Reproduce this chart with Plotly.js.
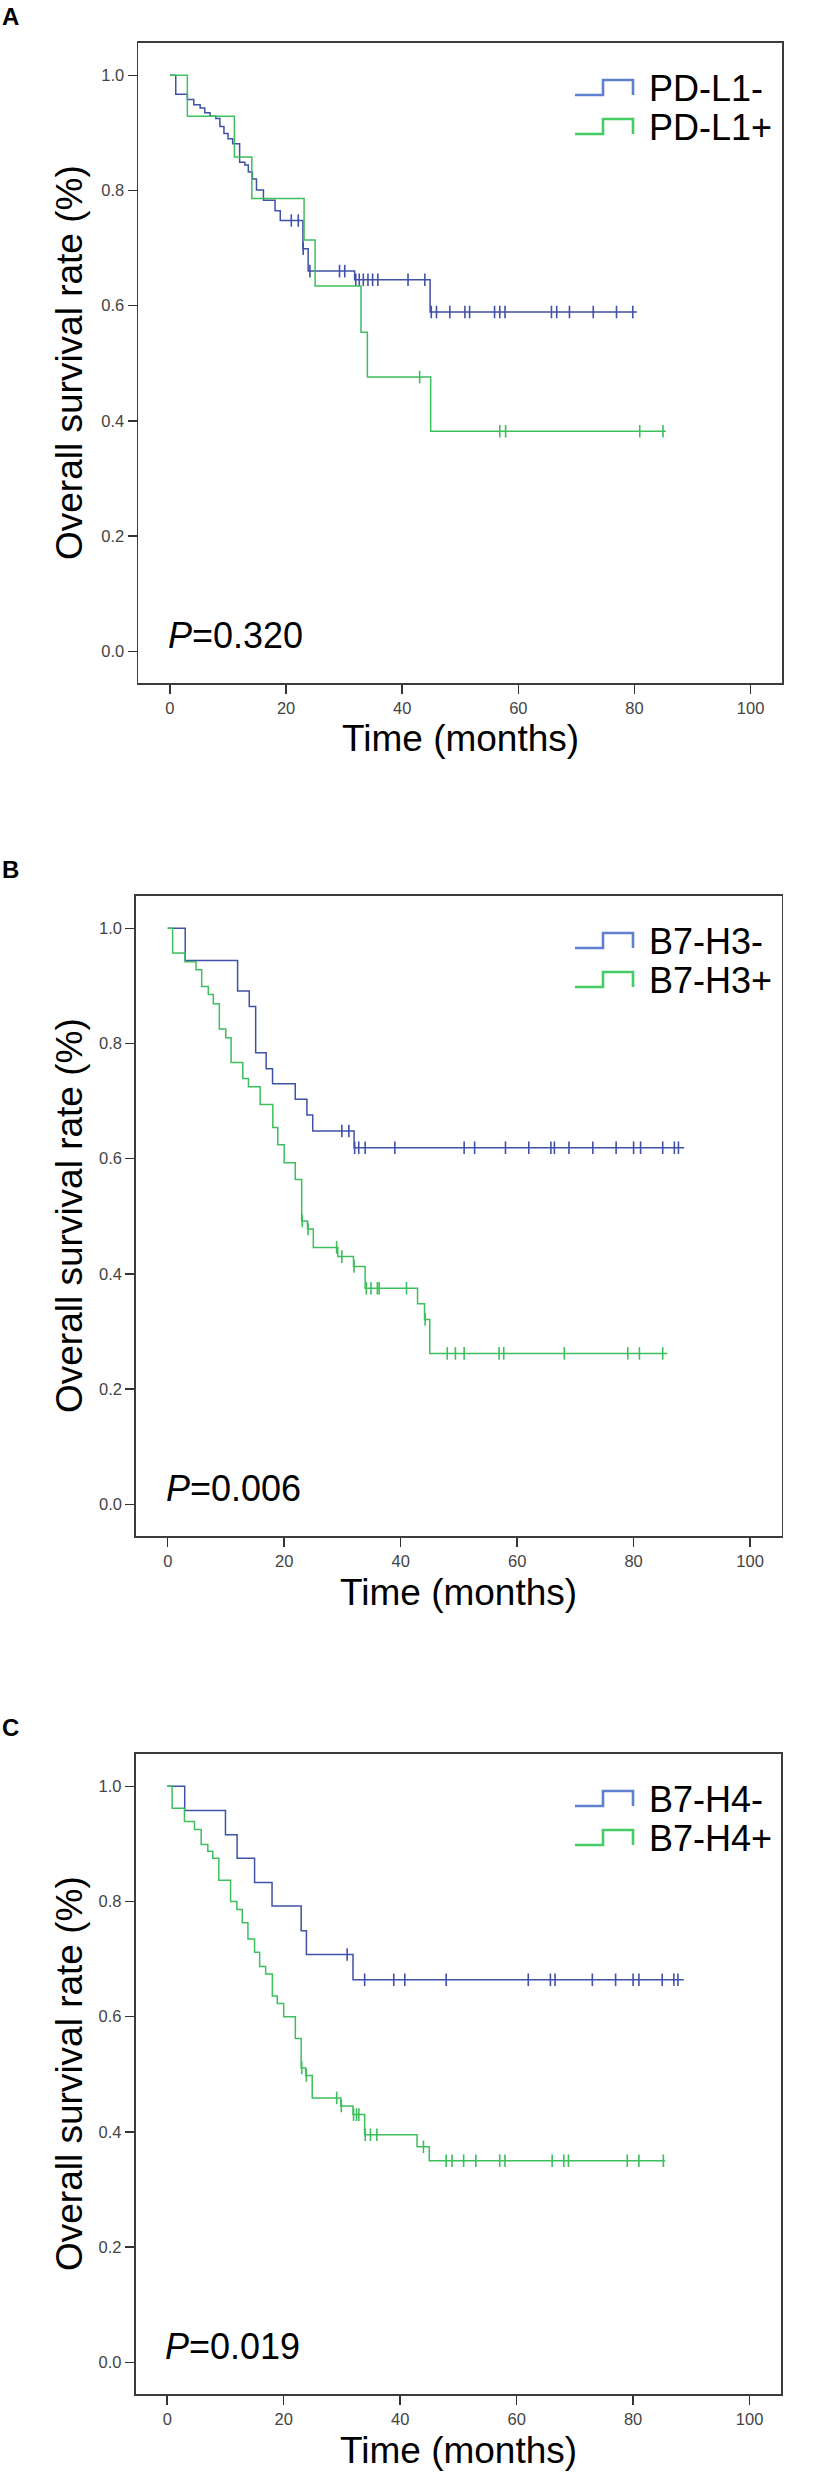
<!DOCTYPE html>
<html>
<head>
<meta charset="utf-8">
<script src="https://cdn.plot.ly/plotly-3.0.1.min.js"></script>
<style>
  html, body { margin: 0; padding: 0; background: #fff; }
  #chart { width: 827px; height: 2475px; }
</style>
</head>
<body>
<div id="chart"></div>
<script>
// ---------------- DATA ----------------
const xTickVals = [0, 20, 40, 60, 80, 100];
const yTickVals = [0, 0.2, 0.4, 0.6, 0.8, 1.0];
const panelLetters = ["A", "B", "C"];
const pValues = ["0.320", "0.006", "0.019"];
const xTitle = "Time (months)";
const yTitle = "Overall survival rate (%)";

// Panel A
const aNegName = "PD-L1-";
const aNegT = [0, 1, 3, 4.1, 5.2, 6, 6.9, 7.9, 8.6, 9.3, 10, 10.8, 12, 12.9, 13.5, 14.2, 14.9, 16.1, 18.1, 19, 22.9, 23.8, 31.8, 44.8];
const aNegS = [1, 0.967, 0.958, 0.949, 0.943, 0.935, 0.929, 0.925, 0.911, 0.899, 0.890, 0.881, 0.849, 0.844, 0.832, 0.820, 0.801, 0.783, 0.765, 0.748, 0.699, 0.660, 0.645, 0.589];
const aNegCens = [20.9, 22.1, 22.95, 24.1, 29.2, 30.1, 32.0, 32.6, 33.3, 34.1, 34.9, 35.8, 41.0, 43.9, 45.0, 45.9, 48.2, 50.8, 51.6, 55.9, 56.8, 57.7, 65.7, 66.6, 68.8, 72.9, 76.9, 79.7];
const aNegEnd = 80.4;
const aPosName = "PD-L1+";
const aPosT = [0, 3.0, 11.1, 14.1, 23.1, 25.0, 32.9, 34.0, 44.9];
const aPosS = [1, 0.929, 0.858, 0.786, 0.714, 0.634, 0.554, 0.476, 0.382];
const aPosCens = [43.0, 56.8, 57.8, 80.9, 84.9];
const aPosEnd = 85.4;

// Panel B
const bNegName = "B7-H3-";
const bNegT = [0, 3.0, 12.0, 14.0, 15.1, 16.9, 18.0, 21.9, 23.9, 24.9, 32.0];
const bNegS = [1, 0.944, 0.891, 0.864, 0.784, 0.756, 0.730, 0.703, 0.676, 0.648, 0.619];
const bNegCens = [29.9, 31.1, 32.1, 32.8, 33.9, 39.0, 50.9, 52.7, 58.0, 62.0, 65.8, 66.4, 68.9, 73.0, 77.0, 80.0, 81.2, 85.0, 87.0, 87.7];
const bNegEnd = 88.7;
const bPosName = "B7-H3+";
const bPosT = [0, 0.84, 2.96, 4.85, 5.83, 6.97, 7.83, 8.86, 9.97, 10.88, 12.89, 13.86, 15.87, 18.05, 18.9, 20.0, 21.9, 23.0, 24.0, 25.0, 29.2, 31.9, 33.9, 42.9, 44.1, 45.0];
const bPosS = [1, 0.957, 0.942, 0.928, 0.899, 0.885, 0.869, 0.825, 0.810, 0.767, 0.739, 0.725, 0.694, 0.654, 0.624, 0.593, 0.564, 0.492, 0.478, 0.446, 0.430, 0.413, 0.375, 0.348, 0.321, 0.262];
const bPosCens = [23.1, 24.1, 29.0, 29.9, 32.0, 34.1, 34.9, 36.0, 36.3, 41.0, 44.2, 48.0, 49.4, 50.9, 56.9, 57.7, 68.1, 79.0, 81.0, 85.0];
const bPosEnd = 85.8;

// Panel C
const cNegName = "B7-H4-";
const cNegT = [0, 3.0, 10.0, 12.0, 15.0, 18.0, 23.0, 23.9, 31.9];
const cNegS = [1, 0.958, 0.916, 0.875, 0.833, 0.792, 0.749, 0.708, 0.664];
const cNegCens = [30.9, 33.9, 38.9, 40.8, 47.9, 62.0, 65.8, 66.6, 73.0, 77.0, 80.0, 81.0, 85.0, 87.0, 87.7];
const cNegEnd = 88.7;
const cPosName = "B7-H4+";
const cPosT = [0, 0.84, 2.96, 4.68, 5.83, 6.97, 7.83, 8.86, 10.88, 11.96, 12.89, 13.86, 15.0, 15.87, 16.9, 18.05, 18.9, 20.0, 22.0, 23.0, 23.8, 24.9, 29.8, 31.9, 33.9, 42.9, 45.0];
const cPosS = [1, 0.962, 0.939, 0.925, 0.899, 0.887, 0.875, 0.837, 0.800, 0.786, 0.763, 0.735, 0.712, 0.687, 0.674, 0.636, 0.623, 0.600, 0.562, 0.511, 0.498, 0.459, 0.445, 0.430, 0.395, 0.374, 0.350];
const cPosCens = [23.1, 23.9, 29.1, 29.9, 32.0, 32.5, 32.9, 34.0, 34.9, 36.0, 44.0, 47.9, 48.9, 50.9, 53.0, 57.1, 58.0, 66.1, 68.1, 68.9, 79.0, 81.0, 85.2];
const cPosEnd = 85.5;

// ---------------- STYLE / LAYOUT ----------------
const W = 827, H = 2475;
const FONT = "Liberation Sans, Arial, Helvetica, sans-serif";
const BLUE = "#3f51a8", GREEN = "#3cbf5c";
const BLUE_LEG = "#5f7fcf", GREEN_LEG = "#45cc66";
const X_RANGE = [-5.45, 105.4];
const Y_RANGE = [-0.055, 1.056];

// pixel boxes of the three plot frames
const boxes = [
  {l: 138.3, r: 782, t: 43, b: 683},
  {l: 136, r: 781.5, t: 896, b: 1536},
  {l: 135.5, r: 781, t: 1754, b: 2394}
];
const px = v => v / W;
const py = v => 1 - v / H;

const series = [
  [{name: aNegName, T: aNegT, S: aNegS, C: aNegCens, E: aNegEnd, col: BLUE, leg: BLUE_LEG},
   {name: aPosName, T: aPosT, S: aPosS, C: aPosCens, E: aPosEnd, col: GREEN, leg: GREEN_LEG}],
  [{name: bNegName, T: bNegT, S: bNegS, C: bNegCens, E: bNegEnd, col: BLUE, leg: BLUE_LEG},
   {name: bPosName, T: bPosT, S: bPosS, C: bPosCens, E: bPosEnd, col: GREEN, leg: GREEN_LEG}],
  [{name: cNegName, T: cNegT, S: cNegS, C: cNegCens, E: cNegEnd, col: BLUE, leg: BLUE_LEG},
   {name: cPosName, T: cPosT, S: cPosS, C: cPosCens, E: cPosEnd, col: GREEN, leg: GREEN_LEG}]
];

function stepValue(T, S, t) {
  let v = S[0];
  for (let i = 0; i < T.length; i++) { if (T[i] <= t) v = S[i]; }
  return v;
}

const traces = [];
const annotations = [];
const shapes = [];
const layout = {
  width: W, height: H,
  margin: {l: 0, r: 0, t: 0, b: 0},
  paper_bgcolor: "#ffffff", plot_bgcolor: "#ffffff",
  showlegend: false,
  font: {family: FONT, color: "#000"},
  annotations: annotations,
  shapes: shapes
};

boxes.forEach((bx, i) => {
  const sfx = i === 0 ? "" : String(i + 1);
  const xa = "x" + sfx, ya = "y" + sfx;
  const axisCommon = {
    showline: true, mirror: true, linecolor: "#3c3c3c", linewidth: 1.8,
    ticks: "outside", ticklen: 9, tickwidth: 1.5, tickcolor: "#333",
    tickfont: {family: FONT, size: 16.5, color: "#444"},
    showgrid: false, zeroline: false, fixedrange: true
  };
  layout["xaxis" + sfx] = Object.assign({}, axisCommon, {
    domain: [px(bx.l), px(bx.r)], range: X_RANGE, anchor: ya,
    tickmode: "array", tickvals: xTickVals
  });
  layout["yaxis" + sfx] = Object.assign({}, axisCommon, {
    domain: [py(bx.b), py(bx.t)], range: Y_RANGE, anchor: xa,
    tickmode: "array", tickvals: yTickVals, tickformat: ".1f"
  });

  series[i].forEach((s, k) => {
    const xs = s.T.concat([s.E]);
    const ys = s.S.concat([s.S[s.S.length - 1]]);
    traces.push({
      type: "scatter", mode: "lines", x: xs, y: ys, xaxis: xa, yaxis: ya,
      line: {shape: "hv", color: s.col, width: 1.5}, hoverinfo: "skip", name: s.name
    });
    traces.push({
      type: "scatter", mode: "markers", x: s.C, y: s.C.map(t => stepValue(s.T, s.S, t)),
      xaxis: xa, yaxis: ya,
      marker: {symbol: "line-ns", size: 9, color: s.col, line: {color: s.col, width: 1.6}},
      hoverinfo: "skip", name: s.name + " censored"
    });

    // legend entry (icon + text)
    const cy = bx.t + 45 + k * 39;
    const p = [[575, cy + 7], [603, cy + 7], [603, cy - 8], [633, cy - 8], [633, cy + 7]];
    shapes.push({
      type: "path", xref: "paper", yref: "paper",
      path: "M" + p.map(q => px(q[0]) + "," + py(q[1])).join(" L"),
      line: {color: s.leg, width: 2.6}
    });
    annotations.push({
      xref: "paper", yref: "paper", x: px(647), y: py(cy), xanchor: "left", yanchor: "middle",
      text: s.name, showarrow: false, font: {family: FONT, size: 36, color: "#000"}
    });
  });

  // panel letter
  annotations.push({
    xref: "paper", yref: "paper", x: px(0), y: py(bx.t - 26.5), xanchor: "left", yanchor: "middle",
    text: "<b>" + panelLetters[i] + "</b>", showarrow: false, font: {family: FONT, size: 24, color: "#000"}
  });
  // P value
  annotations.push({
    xref: xa, yref: ya, x: -0.7, y: 0, xanchor: "left", yanchor: "bottom", yshift: -7,
    text: "<i>P</i>=" + pValues[i], showarrow: false, font: {family: FONT, size: 36, color: "#000"}
  });
  // axis titles
  annotations.push({
    xref: "paper", yref: "paper", x: px((bx.l + bx.r) / 2), y: py(bx.b + 56), xanchor: "center", yanchor: "middle",
    text: xTitle, showarrow: false, font: {family: FONT, size: 37, color: "#000"}
  });
  annotations.push({
    xref: "paper", yref: "paper", x: px(69), y: py((bx.t + bx.b) / 2), xanchor: "center", yanchor: "middle",
    textangle: -90, text: yTitle, showarrow: false, font: {family: FONT, size: 37, color: "#000"}
  });
});

Plotly.newPlot("chart", traces, layout, {staticPlot: true, displayModeBar: false});
</script>
</body>
</html>
